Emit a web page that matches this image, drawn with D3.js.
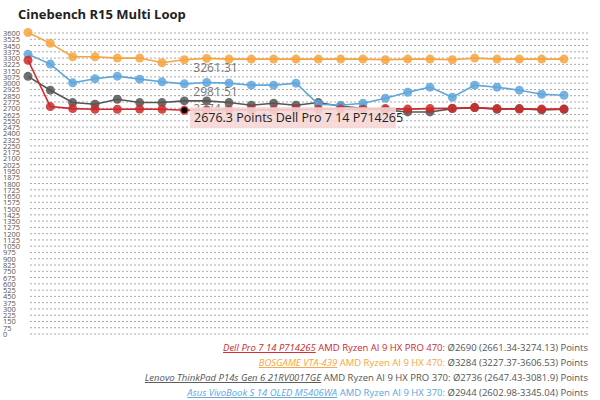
<!DOCTYPE html>
<html><head><meta charset="utf-8">
<script src="https://cdn.jsdelivr.net/npm/d3@7"></script>
<style>body{margin:0;background:#fff;font-family:"Open Sans","Noto Sans",sans-serif}</style>
</head><body>
<script>
const w = 600, h = 400;
const yTicks = d3.range(0, 3601, 75);
const names = ["Dell Pro 7 14 P714265", "BOSGAME VTA-439", "Lenovo ThinkPad P14s Gen 6 21RV0017GE", "Asus VivoBook S 14 OLED M5406WA"];
const cpus = ["AMD Ryzen AI 9 HX PRO 470", "AMD Ryzen AI 9 HX 470", "AMD Ryzen AI 9 HX PRO 370", "AMD Ryzen AI 9 HX 370"];
const stats = ["Ø2690 (2661.34-3274.13) Points", "Ø3284 (3227.37-3606.53) Points", "Ø2736 (2647.43-3081.9) Points", "Ø2944 (2602.98-3345.04) Points"];
const colors = ["#cc2a2a", "#f7a440", "#555555", "#5ea6dc"];
const dell = [3274,2720,2696,2688,2688,2690,2688,2676,2680,2680,2680,2680,2684,2688,2690,2684,2696,2690,2696,2700,2708,2696,2690,2690,2690];
const bosgame = [3606,3476,3316,3316,3300,3300,3244,3280,3296,3288,3288,3288,3288,3288,3288,3288,3280,3288,3288,3280,3300,3288,3288,3288,3288];
const lenovo = [3082,2916,2768,2748,2808,2768,2768,2788,2788,2768,2736,2760,2736,2768,2724,2700,2680,2656,2656,2696,2708,2688,2696,2680,2688];
const asus = [3345,3228,3004,3052,3084,3048,3016,2992,3008,3000,2976,2976,3000,2748,2736,2760,2820,2892,2952,2832,2976,2952,2916,2868,2856];
const series = [lenovo, asus, bosgame, dell];
const seriesColor = [colors[2], colors[3], colors[1], colors[0]];
const hoverLabels = [{v: 3261.31, i: 7}, {v: 2981.51, i: 7}, {v: 2774.5, i: 7}];

const svg = d3.select("body").append("svg").attr("width", w).attr("height", h);

svg.append("text").attr("x", 18).attr("y", 19).attr("font-size", 13).attr("font-weight", "bold")
   .attr("fill", "#222").text("Cinebench R15 Multi Loop");

const x = d3.scaleLinear().domain([0, 24]).range([28, 564]);
const y = d3.scaleLinear().domain([0, 3600]).range([334, 33]);

// grid
svg.append("g").selectAll("line").data(yTicks).enter().append("line")
   .attr("x1", 30).attr("x2", 588).attr("y1", d => y(d)).attr("y2", d => y(d))
   .attr("stroke", "#aaa").attr("stroke-width", 1).attr("stroke-dasharray", "2,2");

svg.append("g").selectAll("text").data(yTicks).enter().append("text")
   .attr("x", 3).attr("y", d => y(d) + 3).attr("font-size", 7.5).attr("fill", "#555")
   .text(d => d);

const line = d3.line().x((d, i) => x(i)).y(d => y(d));
series.forEach((s, k) => {
    const g = svg.append("g");
    g.append("path").datum(s).attr("d", line).attr("fill", "none")
     .attr("stroke", seriesColor[k]).attr("stroke-width", 1.6);
    g.selectAll("circle").data(s).enter().append("circle")
     .attr("cx", (d, i) => x(i)).attr("cy", d => y(d)).attr("r", 4.5)
     .attr("fill", seriesColor[k]).attr("opacity", 0.85);
});

hoverLabels.forEach(l => {
    svg.append("text").attr("x", x(l.i) + 9).attr("y", y(l.v) + 11).attr("font-size", 12)
       .attr("fill", "#777").text(l.v);
});

// tooltip
svg.append("circle").attr("cx", x(7)).attr("cy", y(2676.3)).attr("r", 3).attr("fill", "#000");
svg.append("rect").attr("x", 190).attr("y", y(2676.3) - 3).attr("width", 206).attr("height", 21)
   .attr("fill", "#f6d6d6").attr("opacity", 0.9);
svg.append("text").attr("x", 194).attr("y", y(2676.3) + 12).attr("font-size", 12.5).attr("fill", "#222")
   .text("2676.3 Points " + names[0]);

// legend
names.forEach((n, k) => {
    const t = svg.append("text").attr("x", 588).attr("y", 351 + k * 15).attr("font-size", 9.5)
       .attr("text-anchor", "end");
    t.append("tspan").attr("font-style", "italic").attr("text-decoration", "underline")
     .attr("fill", colors[k]).text(n);
    t.append("tspan").attr("fill", colors[k]).text(" " + cpus[k] + ": ");
    t.append("tspan").attr("fill", "#555").text(stats[k]);
});
</script>
</body></html>
